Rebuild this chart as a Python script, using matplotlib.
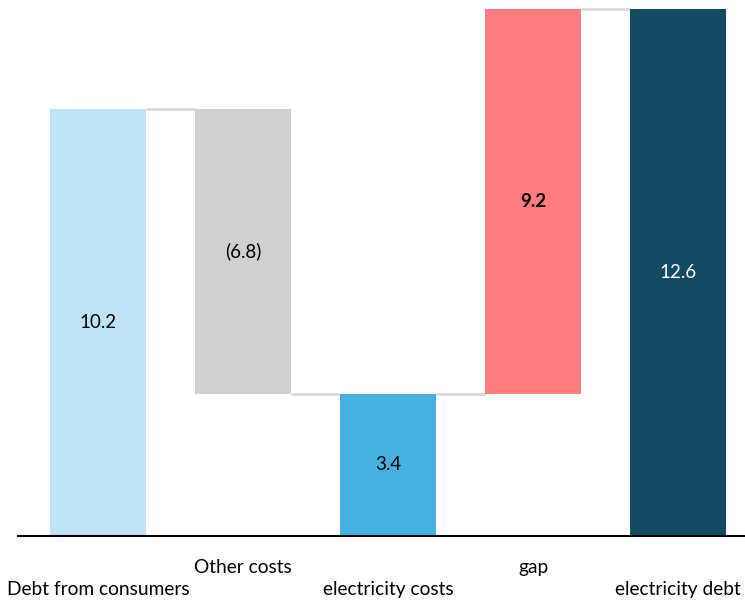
import numpy as np
import matplotlib.pyplot as plt

plt.rcParams['font.family'] = ['Lato', 'DejaVu Sans']

categories = ["Debt from consumers", "Other costs", "electricity costs", "gap", "electricity debt"]
values = [10.2, -6.8, 3.4, 9.2, 12.6]
is_total = [True, False, True, False, True]
value_labels = ["10.2", "(6.8)", "3.4", "9.2", "12.6"]
colors = ["#C0E4F5", "#D0D0D0", "#46B1E1", "#FF7C80", "#134A62"]
label_colors = ["black", "black", "black", "black", "white"]
label_weights = ["normal", "normal", "normal", "bold", "normal"]

# running level for the waterfall
bottoms, tops = [], []
level = 0.0
for v, tot in zip(values, is_total):
    if tot:
        b, t = 0.0, v
        level = v
    else:
        b, t = min(level, level + v), max(level, level + v)
        level = level + v
    bottoms.append(b)
    tops.append(t)
bottoms = np.array(bottoms)
tops = np.array(tops)

fig = plt.figure(figsize=(7.45, 6.03), dpi=100)
ax = fig.add_axes([18 / 745, 67 / 603, 727 / 745, 536 / 603])

x = np.arange(len(categories))
width = 0.662
ax.bar(x, tops - bottoms, bottom=bottoms, width=width, color=colors, zorder=2)

# connectors between bars
ends = []
level = 0.0
for v, tot in zip(values, is_total):
    level = v if tot else level + v
    ends.append(level)
for i in range(len(x) - 1):
    ax.plot([x[i] + width / 2, x[i + 1] - width / 2], [ends[i], ends[i]],
            color="#D9D9D9", lw=2, zorder=1, solid_capstyle="butt")

for i in range(len(x)):
    ax.text(x[i], (bottoms[i] + tops[i]) / 2, value_labels[i], ha="center", va="center",
            fontsize=13.5, color=label_colors[i], fontweight=label_weights[i])

ax.set_xlim(-0.552, 4.462)
ax.set_ylim(0, 12.6 * 536 / 527)
ax.set_xticks(x)
ax.set_xticklabels([])
ax.tick_params(length=0)
ax.set_yticks([])
for s in ["top", "right", "left"]:
    ax.spines[s].set_visible(False)
ax.spines["bottom"].set_linewidth(1.5)

for i, c in enumerate(categories):
    ypix = 23 if i % 2 else 45
    ax.annotate(c, xy=(x[i], 0), xycoords="data", xytext=(0, -ypix), textcoords="offset pixels",
                ha="center", va="top", fontsize=13.8, annotation_clip=False)

fig.savefig("out.png", dpi=100)
